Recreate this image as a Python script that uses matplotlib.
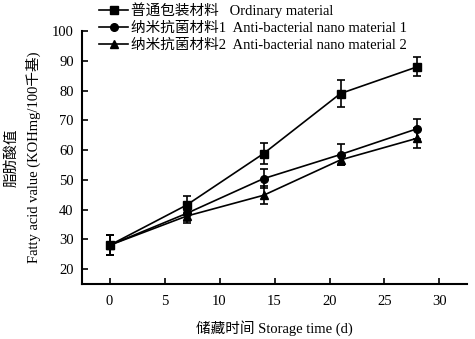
import matplotlib
matplotlib.use("Agg")
import matplotlib.pyplot as plt

plt.rcParams['font.family'] = ['Liberation Serif', 'Noto Sans CJK SC']

days = [0, 7, 14, 21, 28]
ordinary = [28.0, 41.5, 58.8, 79.0, 88.0]
ordinary_err = [3.3, 3.2, 3.5, 4.4, 3.2]
nano1 = [28.0, 38.7, 50.4, 58.5, 67.2]
nano1_err = [3.3, 2.5, 3.2, 3.5, 3.4]
nano2 = [28.0, 37.8, 44.8, 56.7, 64.0]
nano2_err = [3.3, 2.2, 3.0, 1.8, 3.4]

labels = ["普通包装材料   Ordinary material",
          "纳米抗菌材料1  Anti-bacterial nano material 1",
          "纳米抗菌材料2  Anti-bacterial nano material 2"]
markers = ['s', 'o', '^']

fig = plt.figure(figsize=(4.75, 3.39), dpi=100)
ax = fig.add_axes([82/475, 1 - 284/339, (467 - 82)/475, (284 - 31)/339])

for y, err, m, lab in zip([ordinary, nano1, nano2],
                          [ordinary_err, nano1_err, nano2_err], markers, labels):
    ax.errorbar(days, y, yerr=err, fmt='none', ecolor='black',
                elinewidth=1.2, capsize=3, capthick=1.2)
    ax.plot(days, y, color='black', lw=1.2, marker=m, markersize=5.5, label=lab)

ax.set_xlim(-2.5, 32.5)
ax.set_ylim(15, 100)
ax.set_xticks(range(0, 31, 5))
ax.set_yticks(range(20, 101, 10))
ax.tick_params(direction='in', length=4.5, width=1.2, labelsize=10.5)
ax.tick_params(axis='x', pad=8)
ax.tick_params(axis='y', pad=6)
for s in ['top', 'right']:
    ax.spines[s].set_visible(False)
for s in ['left', 'bottom']:
    ax.spines[s].set_linewidth(1.5)

ax.set_xlabel("储藏时间 Storage time (d)", fontsize=10.5, labelpad=9)
ax.set_ylabel("脂肪酸值\nFatty acid value (KOHmg/100千基)", fontsize=10.5,
              labelpad=8, linespacing=1.6)

fig.legend(loc='upper left', bbox_to_anchor=(99/475, 1 - 2.5/339),
           frameon=False, fontsize=10.5, borderpad=0, borderaxespad=0,
           handlelength=2.0, handletextpad=0.2, labelspacing=0.25)

fig.savefig("out.png", dpi=100)
